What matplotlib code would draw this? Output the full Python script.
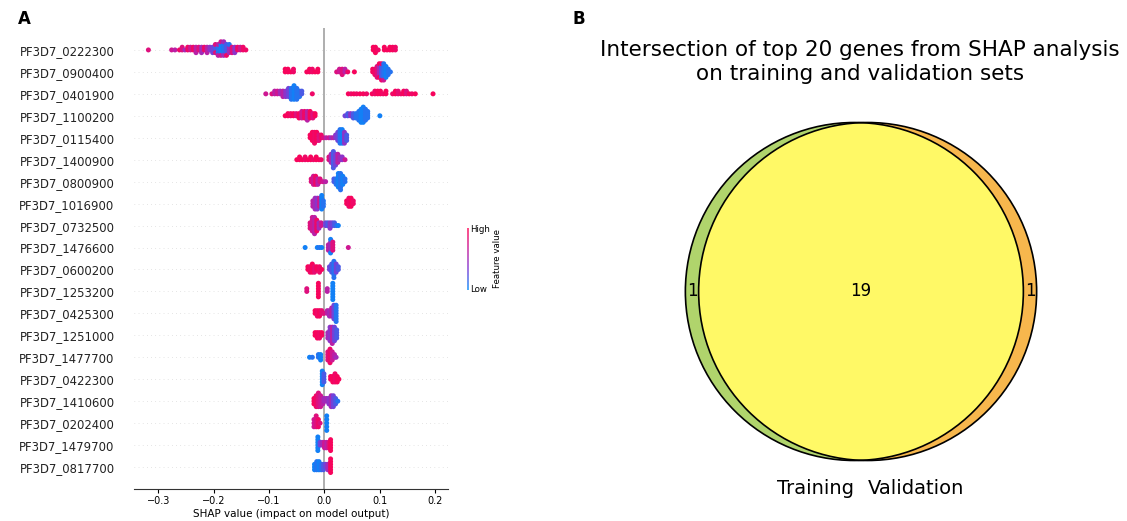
import numpy as np
import matplotlib.pyplot as plt
from matplotlib.colors import LinearSegmentedColormap
from matplotlib.patches import Circle

# --- data: SHAP summary (panel A) ---
genes = ["PF3D7_0222300", "PF3D7_0900400", "PF3D7_0401900", "PF3D7_1100200",
         "PF3D7_0115400", "PF3D7_1400900", "PF3D7_0800900", "PF3D7_1016900",
         "PF3D7_0732500", "PF3D7_1476600", "PF3D7_0600200", "PF3D7_1253200",
         "PF3D7_0425300", "PF3D7_1251000", "PF3D7_1477700", "PF3D7_0422300",
         "PF3D7_1410600", "PF3D7_0202400", "PF3D7_1479700", "PF3D7_0817700"]

# each entry: (shap value, number of samples, feature value 0=low .. 1=high)
g0222300 = [(-0.318, 1, 0.8), (-0.276, 1, 0.7), (-0.270, 1, 0.6), (-0.262, 1, 0.9),
            (-0.257, 2, 0.8), (-0.252, 1, 0.5), (-0.247, 2, 0.9), (-0.242, 2, 0.7),
            (-0.237, 2, 0.9), (-0.232, 3, 0.6), (-0.227, 2, 0.8), (-0.222, 3, 0.5),
            (-0.217, 2, 0.9), (-0.212, 3, 0.6), (-0.207, 2, 0.4), (-0.202, 3, 0.3),
            (-0.197, 2, 0.2), (-0.197, 2, 0.8), (-0.192, 3, 0.1), (-0.192, 2, 0.6),
            (-0.187, 4, 0.05), (-0.187, 2, 0.7), (-0.182, 4, 0.1), (-0.182, 2, 0.5),
            (-0.177, 4, 0.2), (-0.177, 1, 0.9), (-0.172, 3, 0.5), (-0.172, 1, 0.1),
            (-0.167, 3, 0.8), (-0.162, 3, 0.4), (-0.157, 2, 0.9), (-0.152, 2, 0.7),
            (-0.147, 2, 0.9), (-0.142, 1, 0.9),
            (0.088, 2, 0.95), (0.092, 3, 0.95), (0.097, 1, 0.9), (0.108, 2, 0.95),
            (0.113, 1, 0.95), (0.118, 2, 0.95), (0.123, 2, 0.95), (0.128, 2, 0.9)]
g0900400 = [(-0.071, 2, 0.95), (-0.066, 2, 0.95), (-0.061, 1, 0.95), (-0.056, 2, 0.9),
            (-0.032, 1, 0.95), (-0.027, 2, 0.95), (-0.022, 2, 0.9), (-0.017, 1, 0.95),
            (-0.012, 2, 0.95), (0.022, 1, 0.8), (0.027, 2, 0.7), (0.032, 3, 0.8),
            (0.037, 2, 0.6), (0.042, 1, 0.9), (0.054, 1, 0.95), (0.087, 2, 0.95),
            (0.091, 3, 0.9), (0.095, 5, 0.8), (0.099, 4, 0.5), (0.099, 2, 0.95),
            (0.103, 5, 0.2), (0.103, 2, 0.9), (0.107, 6, 0.1), (0.107, 1, 0.7),
            (0.111, 5, 0.05), (0.115, 3, 0.1), (0.119, 1, 0.1)]
g0401900 = [(-0.106, 1, 0.7), (-0.095, 1, 0.8), (-0.090, 2, 0.6), (-0.085, 2, 0.7),
            (-0.080, 2, 0.5), (-0.075, 3, 0.6), (-0.070, 3, 0.4), (-0.065, 4, 0.3),
            (-0.060, 5, 0.1), (-0.055, 6, 0.05), (-0.050, 5, 0.1), (-0.045, 3, 0.1),
            (-0.041, 2, 0.2), (-0.022, 1, 0.9),
            (0.043, 1, 0.95), (0.048, 1, 0.9), (0.053, 1, 0.95), (0.058, 1, 0.9),
            (0.064, 1, 0.95), (0.070, 1, 0.95), (0.076, 1, 0.9), (0.086, 1, 0.95),
            (0.091, 2, 0.9), (0.096, 2, 0.95), (0.101, 2, 0.95), (0.106, 1, 0.9),
            (0.111, 2, 0.95), (0.123, 1, 0.9), (0.128, 2, 0.95), (0.133, 2, 0.85),
            (0.138, 1, 0.9), (0.143, 2, 0.95), (0.148, 2, 0.8), (0.153, 1, 0.95),
            (0.158, 1, 0.9), (0.164, 1, 0.95), (0.196, 1, 0.95)]
g1100200 = [(-0.071, 1, 0.95), (-0.066, 2, 0.95), (-0.061, 2, 0.9), (-0.056, 2, 0.95),
            (-0.051, 2, 0.8), (-0.046, 3, 0.95), (-0.041, 4, 0.7), (-0.036, 4, 0.9),
            (-0.031, 5, 0.6), (-0.026, 4, 0.95), (-0.021, 3, 0.8), (-0.017, 2, 0.95),
            (0.037, 1, 0.3), (0.042, 2, 0.2), (0.047, 2, 0.4), (0.052, 3, 0.2),
            (0.057, 3, 0.1), (0.062, 5, 0.1), (0.066, 7, 0.05), (0.070, 8, 0.05),
            (0.074, 6, 0.1), (0.078, 4, 0.1), (0.100, 1, 0.05)]
g0115400 = [(-0.026, 2, 0.95), (-0.022, 4, 0.95), (-0.018, 5, 0.9), (-0.014, 4, 0.95),
            (-0.010, 3, 0.8), (-0.006, 2, 0.9), (-0.002, 1, 0.8), (0.003, 1, 0.6),
            (0.008, 1, 0.7), (0.012, 1, 0.5), (0.016, 1, 0.6), (0.020, 2, 0.4),
            (0.024, 4, 0.3), (0.028, 6, 0.1), (0.032, 6, 0.05), (0.036, 5, 0.4),
            (0.040, 3, 0.2)]
g1400900 = [(-0.050, 1, 0.95), (-0.045, 2, 0.95), (-0.040, 1, 0.95), (-0.035, 2, 0.9),
            (-0.030, 1, 0.95), (-0.025, 2, 0.95), (-0.020, 1, 0.9), (-0.015, 2, 0.95),
            (-0.010, 1, 0.95), (-0.006, 1, 0.9), (0.008, 2, 0.8), (0.012, 4, 0.5),
            (0.016, 7, 0.2), (0.020, 5, 0.3), (0.024, 4, 0.6), (0.028, 2, 0.5),
            (0.032, 2, 0.4), (0.037, 1, 0.7)]
g0800900 = [(-0.024, 2, 0.8), (-0.020, 4, 0.7), (-0.016, 4, 0.9), (-0.012, 3, 0.6),
            (-0.008, 2, 0.8), (-0.003, 1, 0.7), (0.002, 1, 0.6), (0.017, 2, 0.2),
            (0.021, 3, 0.1), (0.025, 6, 0.05), (0.029, 7, 0.1), (0.033, 4, 0.05),
            (0.037, 2, 0.1)]
g1016900 = [(-0.021, 3, 0.6), (-0.017, 5, 0.5), (-0.013, 5, 0.4), (-0.009, 4, 0.7),
            (-0.005, 6, 0.05), (-0.002, 3, 0.1), (0.040, 2, 0.95), (0.044, 4, 0.9),
            (0.048, 4, 0.95), (0.052, 2, 0.9)]
g0732500 = [(-0.026, 3, 0.8), (-0.022, 6, 0.7), (-0.018, 7, 0.6), (-0.014, 5, 0.9),
            (-0.010, 3, 0.5), (-0.006, 2, 0.7), (0.002, 2, 0.3), (0.006, 2, 0.2),
            (0.010, 3, 0.4), (0.014, 2, 0.3), (0.018, 2, 0.2), (0.022, 1, 0.1),
            (0.025, 1, 0.05)]
g1476600 = [(-0.035, 1, 0.05), (-0.013, 1, 0.05), (-0.009, 1, 0.1), (-0.005, 1, 0.05),
            (0.007, 3, 0.6), (0.011, 4, 0.5), (0.011, 2, 0.05), (0.015, 4, 0.8),
            (0.043, 1, 0.7)]
g0600200 = [(-0.030, 2, 0.95), (-0.026, 3, 0.9), (-0.022, 4, 0.95), (-0.018, 3, 0.85),
            (-0.014, 2, 0.95), (-0.009, 3, 0.9), (-0.005, 1, 0.95), (0.009, 2, 0.3),
            (0.013, 4, 0.2), (0.017, 7, 0.1), (0.021, 4, 0.3), (0.025, 2, 0.2)]
g1253200 = [(-0.032, 2, 0.8), (-0.011, 6, 0.95), (0.005, 2, 0.6), (0.015, 7, 0.05)]
g0425300 = [(-0.017, 2, 0.95), (-0.013, 3, 0.9), (-0.009, 3, 0.95), (-0.005, 2, 0.85),
            (-0.001, 1, 0.8), (0.005, 2, 0.6), (0.009, 3, 0.5), (0.013, 4, 0.6),
            (0.017, 6, 0.3), (0.021, 7, 0.1)]
g1251000 = [(-0.017, 2, 0.95), (-0.013, 3, 0.95), (-0.009, 3, 0.9), (-0.005, 2, 0.95),
            (0.006, 3, 0.5), (0.010, 6, 0.4), (0.014, 7, 0.6), (0.018, 6, 0.3),
            (0.022, 4, 0.2)]
g1477700 = [(-0.027, 1, 0.05), (-0.022, 1, 0.1), (-0.011, 2, 0.1), (-0.007, 3, 0.05),
            (0.006, 4, 0.8), (0.010, 6, 0.9), (0.014, 4, 0.7), (0.018, 2, 0.6),
            (0.021, 1, 0.5)]
g0422300 = [(-0.004, 6, 0.05), (-0.001, 4, 0.2), (0.011, 2, 0.95), (0.015, 3, 0.95),
            (0.019, 4, 0.9), (0.023, 3, 0.95), (0.026, 1, 0.95)]
g1410600 = [(-0.019, 3, 0.95), (-0.015, 5, 0.9), (-0.011, 6, 0.8), (-0.007, 5, 0.7),
            (-0.003, 3, 0.6), (0.000, 2, 0.5), (0.004, 2, 0.5), (0.008, 3, 0.4),
            (0.012, 5, 0.5), (0.016, 5, 0.3), (0.020, 3, 0.2), (0.024, 1, 0.1)]
g0202400 = [(-0.019, 3, 0.7), (-0.015, 4, 0.8), (-0.011, 3, 0.9), (-0.008, 1, 0.8),
            (0.004, 5, 0.05)]
g1479700 = [(-0.012, 6, 0.05), (-0.008, 2, 0.3), (-0.004, 2, 0.5), (0.000, 3, 0.7),
            (0.004, 3, 0.6), (0.008, 3, 0.8), (0.011, 5, 0.95)]
g0817700 = [(-0.018, 3, 0.05), (-0.014, 4, 0.1), (-0.010, 4, 0.05), (-0.006, 3, 0.1),
            (-0.002, 3, 0.2), (0.002, 2, 0.3), (0.006, 3, 0.5), (0.011, 6, 0.95)]

rows = [g0222300, g0900400, g0401900, g1100200, g0115400, g1400900, g0800900,
        g1016900, g0732500, g1476600, g0600200, g1253200, g0425300, g1251000,
        g1477700, g0422300, g1410600, g0202400, g1479700, g0817700]

x_ticks = [-0.3, -0.2, -0.1, 0.0, 0.1, 0.2]

# --- data: Venn (panel B) ---
set_names = ["Training", "Validation"]
only_train, shared, only_valid = 1, 19, 1

# SHAP-like red/blue colormap
shap_cmap = LinearSegmentedColormap.from_list(
    "shap_rb", ["#008bfb", "#7d3ad6", "#c81a9a", "#ff0052"])

fig = plt.figure(figsize=(11.27, 5.21), dpi=100)
fig.patch.set_facecolor('white')

# ================= Panel A =================
ax = fig.add_axes([0.1189, 0.0614, 0.2786, 0.8849])
n = len(genes)
row_height = 0.55
for i, clusters in enumerate(rows):
    pos = n - 1 - i
    ax.axhline(y=pos, color="#cccccc", lw=0.5, dashes=(1, 5), zorder=-1)
    # group samples into columns and stack them like a beeswarm
    cols = {}
    for x, cnt, f in clusters:
        cols.setdefault(round(x, 4), []).extend([f] * cnt)
    max_layer = max(len(v) // 2 for v in cols.values())
    scale = 0.9 * row_height / (max_layer + 1)
    xs, ys, cs = [], [], []
    for x, fs in cols.items():
        for k, f in enumerate(fs):
            layer = (k + 1) // 2
            sign = 1 if k % 2 else -1
            xs.append(x)
            ys.append(pos + sign * layer * scale)
            cs.append(f)
    ax.scatter(xs, ys, c=cs, cmap=shap_cmap, vmin=0, vmax=1, s=13,
               linewidths=0, alpha=1, zorder=3)

ax.axvline(0, color="#999999", lw=1.1, zorder=-1)
ax.set_yticks(range(n))
ax.set_yticklabels(genes[::-1], fontsize=8.4)
ax.set_ylim(-1, n)
ax.set_xlim(-0.344, 0.223)
ax.set_xticks(x_ticks)
ax.set_xticklabels([f"{t:.1f}".replace("-", "\u2212") for t in x_ticks], fontsize=7)
ax.set_xlabel("SHAP value (impact on model output)", fontsize=7.5, labelpad=2)
for s in ["top", "right", "left"]:
    ax.spines[s].set_visible(False)
ax.spines["bottom"].set_color("#333333")
ax.tick_params(axis="y", length=0, pad=14, colors="#222222")
ax.tick_params(axis="x", length=3, width=0.8, pad=2)

# colorbar
cax = fig.add_axes([467 / 1127, (521 - 290) / 521, 1.2 / 1127, 62 / 521])
cax.imshow(np.linspace(0, 1, 100)[:, None], aspect="auto", cmap=shap_cmap,
           origin="lower", alpha=0.7)
cax.axis("off")
fig.text(470 / 1127, 1 - 230 / 521, "High", fontsize=6.2, va="center", ha="left")
fig.text(470 / 1127, 1 - 289 / 521, "Low", fontsize=6.2, va="center", ha="left")
fig.text(498 / 1127, 1 - 259 / 521, "Feature value", fontsize=6.2, rotation=90,
         va="center", ha="center")

fig.text(18 / 1127, 1 - 19 / 521, "A", fontsize=12, fontweight="bold",
         va="center", ha="left")
fig.text(572 / 1127, 1 - 19 / 521, "B", fontsize=12, fontweight="bold",
         va="center", ha="left")

# ================= Panel B =================
size_a = only_train + shared
size_b = only_valid + shared
r_a = np.sqrt(size_a / np.pi)
r_b = np.sqrt(size_b / np.pi)


def lens_area(d, r1, r2):
    if d >= r1 + r2:
        return 0.0
    if d <= abs(r1 - r2):
        return np.pi * min(r1, r2) ** 2
    a1 = r1 ** 2 * np.arccos((d ** 2 + r1 ** 2 - r2 ** 2) / (2 * d * r1))
    a2 = r2 ** 2 * np.arccos((d ** 2 + r2 ** 2 - r1 ** 2) / (2 * d * r2))
    a3 = 0.5 * np.sqrt((-d + r1 + r2) * (d + r1 - r2) * (d - r1 + r2) * (d + r1 + r2))
    return a1 + a2 - a3


# distance between centres so the lens area equals the shared count
lo, hi = abs(r_a - r_b) + 1e-9, r_a + r_b
for _ in range(100):
    mid = 0.5 * (lo + hi)
    if lens_area(mid, r_a, r_b) > shared:
        lo = mid
    else:
        hi = mid
d = 0.5 * (lo + hi)
ca = (-d / 2, 0.0)
cb = (d / 2, 0.0)

# map venn units onto the right half of the figure
px_per_unit = 169 / r_a
cx_px, cy_px = 861, 291.5
vx = fig.add_axes([0.5, 0.0, 0.5, 1.0])
vx.set_xlim((563.5 - cx_px) / px_per_unit, (1127 - cx_px) / px_per_unit)
vx.set_ylim(-(521 - cy_px) / px_per_unit, cy_px / px_per_unit)
vx.axis("off")

circ_a = Circle(ca, r_a, facecolor="#b0d46c", edgecolor="none", zorder=1)
circ_b = Circle(cb, r_b, facecolor="#f7b74d", edgecolor="none", zorder=1)
vx.add_patch(circ_a)
vx.add_patch(circ_b)
inter = Circle(cb, r_b, facecolor="#fff966", edgecolor="none", zorder=2)
vx.add_patch(inter)
inter.set_clip_path(circ_a)
for c, r in [(ca, r_a), (cb, r_b)]:
    vx.add_patch(Circle(c, r, facecolor="none", edgecolor="black", lw=1.2, zorder=3))

vx.text(-(r_a + r_b) / 2, 0, str(only_train), fontsize=12, ha="center", va="center", zorder=4)
vx.text(0, 0, str(shared), fontsize=12, ha="center", va="center", zorder=4)
vx.text((r_a + r_b) / 2, 0, str(only_valid), fontsize=12, ha="center", va="center", zorder=4)

label_y = -(488 - cy_px) / px_per_unit
vx.text(ca[0], label_y, set_names[0], fontsize=14, ha="right", va="center")
vx.text(cb[0], label_y, set_names[1], fontsize=14, ha="left", va="center")

fig.text(860 / 1127, 1 - 62 / 521,
         "Intersection of top 20 genes from SHAP analysis\non training and validation sets",
         fontsize=15.5, ha="center", va="center", linespacing=1.3)

plt.savefig("out.png", dpi=100, facecolor="white")
